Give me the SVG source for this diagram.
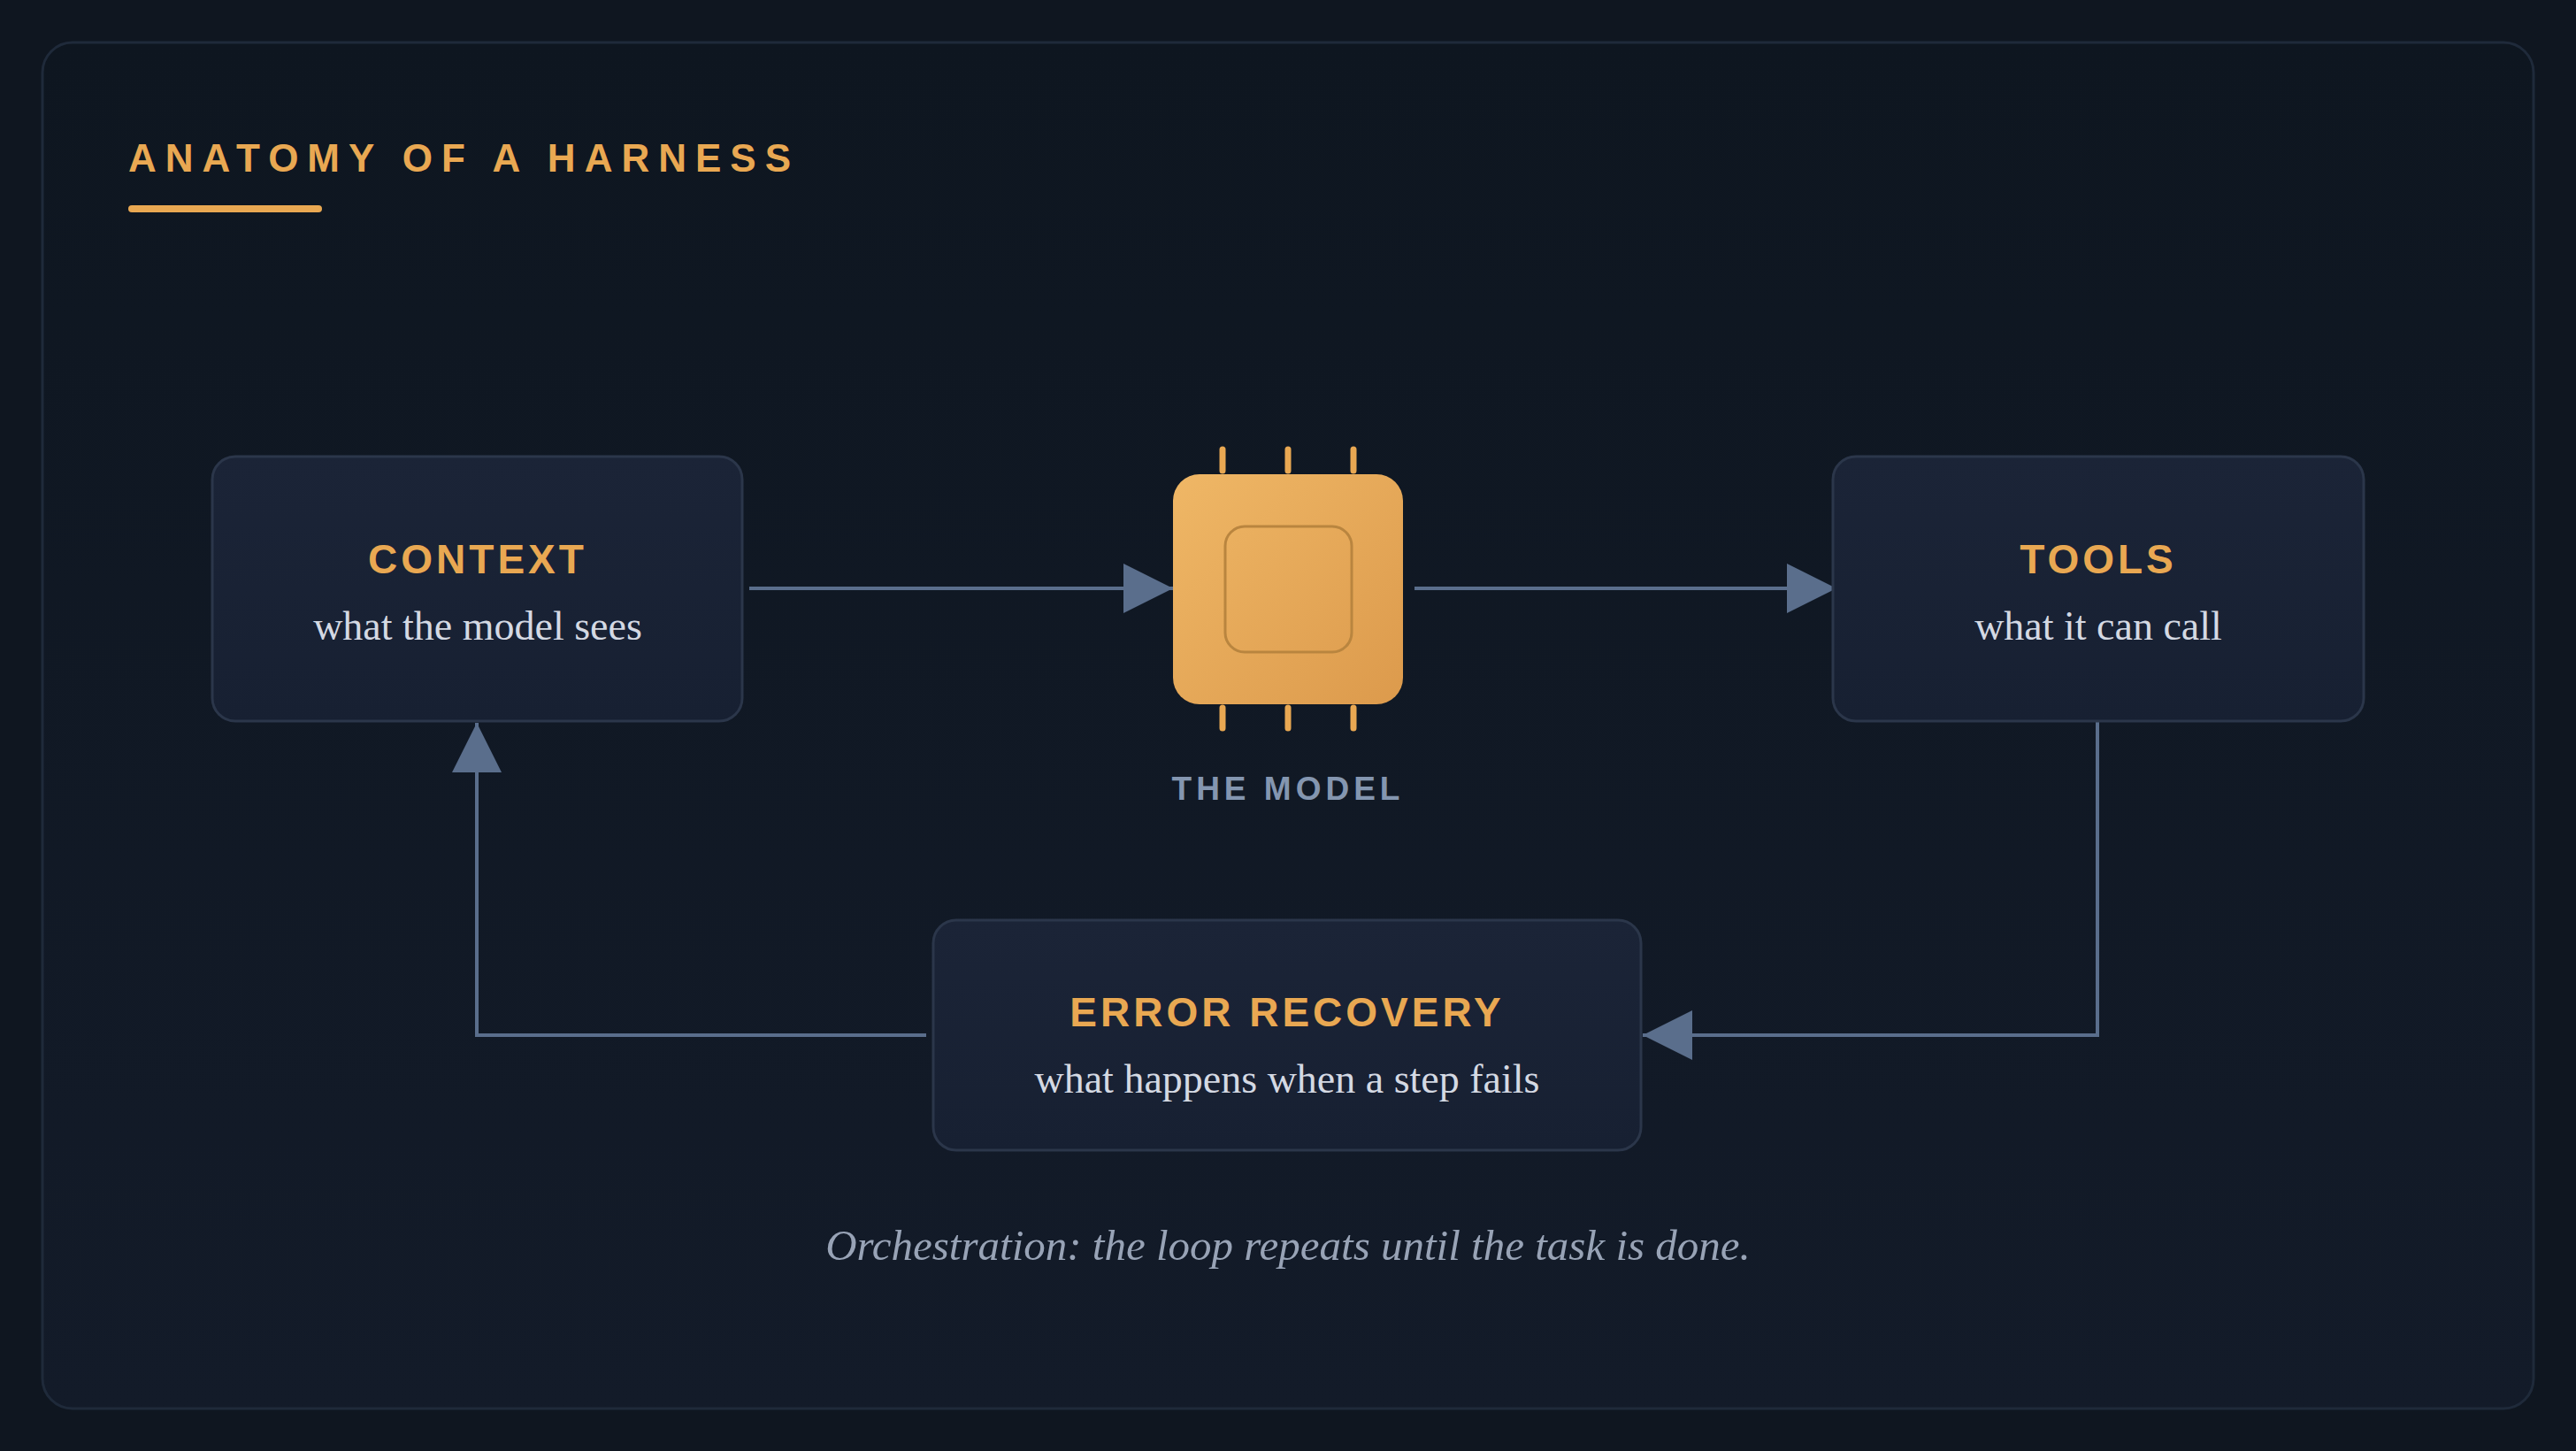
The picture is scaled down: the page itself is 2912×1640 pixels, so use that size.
<svg xmlns="http://www.w3.org/2000/svg" width="2912" height="1640" viewBox="0 0 2912 1640">
<defs>
<linearGradient id="bg" x1="0" y1="0" x2="0" y2="1"><stop offset="0" stop-color="#0e1620"/><stop offset="1" stop-color="#131b29"/></linearGradient>
<linearGradient id="box" x1="0" y1="0" x2="0" y2="1"><stop offset="0" stop-color="#1b2437"/><stop offset="1" stop-color="#172032"/></linearGradient>
<linearGradient id="chip" x1="0" y1="0" x2="1" y2="1"><stop offset="0" stop-color="#efb766"/><stop offset="1" stop-color="#dc9a4c"/></linearGradient>
<marker id="ah" viewBox="0 0 10 10" refX="10" refY="5" markerWidth="56" markerHeight="60" markerUnits="userSpaceOnUse" orient="auto"><path d="M0,0 L10,5 L0,10 Z" fill="#5a6e8c"/></marker>
<style>
.box{fill:url(#box);stroke:#2b364a;stroke-width:3}
.t{font-family:"Liberation Sans",Arial,sans-serif;font-weight:bold;font-size:46px;fill:#e9a852;letter-spacing:4px;text-anchor:middle}
.s{font-family:"Liberation Serif","Times New Roman",serif;font-size:46px;fill:#d4d9e3;text-anchor:middle}
.c{fill:none;stroke:#5a6e8c;stroke-width:4}
.pin{stroke:#e9a852;stroke-width:7;stroke-linecap:round}
</style>
</defs>
<rect width="2912" height="1640" fill="#0f1620"/>
<rect x="48" y="48" width="2816" height="1544" rx="34" fill="url(#bg)" stroke="#1f2a3a" stroke-width="3"/>
<text x="145" y="194" font-family="Liberation Sans,Arial,sans-serif" font-weight="bold" font-size="44" fill="#e9a852" letter-spacing="10">ANATOMY OF A HARNESS</text>
<rect x="145" y="232" width="219" height="8" rx="4" fill="#e9a852"/>
<g id="connectors">
<line class="c" x1="847" y1="665" x2="1326" y2="665" marker-end="url(#ah)"/>
<line class="c" x1="1599" y1="665" x2="2076" y2="665" marker-end="url(#ah)"/>
<polyline class="c" points="2371,815 2371,1170 1857,1170" marker-end="url(#ah)"/>
<polyline class="c" points="1047,1170 539,1170 539,817" marker-end="url(#ah)"/>
</g>
<g id="context"><rect class="box" x="240" y="516" width="599" height="299" rx="26"/><text class="t" x="540" y="648">CONTEXT</text><text class="s" x="540" y="723">what the model sees</text></g>
<g id="tools"><rect class="box" x="2072" y="516" width="600" height="299" rx="26"/><text class="t" x="2372" y="648">TOOLS</text><text class="s" x="2372" y="723">what it can call</text></g>
<g id="error"><rect class="box" x="1055" y="1040" width="800" height="260" rx="26"/><text class="t" x="1455" y="1160">ERROR RECOVERY</text><text class="s" x="1455" y="1235">what happens when a step fails</text></g>
<g id="model">
<line class="pin" x1="1382" y1="508" x2="1382" y2="532"/><line class="pin" x1="1456" y1="508" x2="1456" y2="532"/><line class="pin" x1="1530" y1="508" x2="1530" y2="532"/>
<line class="pin" x1="1382" y1="800" x2="1382" y2="823"/><line class="pin" x1="1456" y1="800" x2="1456" y2="823"/><line class="pin" x1="1530" y1="800" x2="1530" y2="823"/>
<rect x="1326" y="536" width="260" height="260" rx="30" fill="url(#chip)"/>
<rect x="1385" y="595" width="143" height="142" rx="22" fill="none" stroke="#b9853f" stroke-width="3"/>
<text x="1456" y="904" font-family="Liberation Sans,Arial,sans-serif" font-weight="bold" font-size="37" fill="#8496b0" letter-spacing="5" text-anchor="middle">THE MODEL</text>
</g>
<text x="1456" y="1424" font-family="Liberation Serif,Times New Roman,serif" font-style="italic" font-size="49" fill="#98a3b6" text-anchor="middle">Orchestration: the loop repeats until the task is done.</text>
</svg>
